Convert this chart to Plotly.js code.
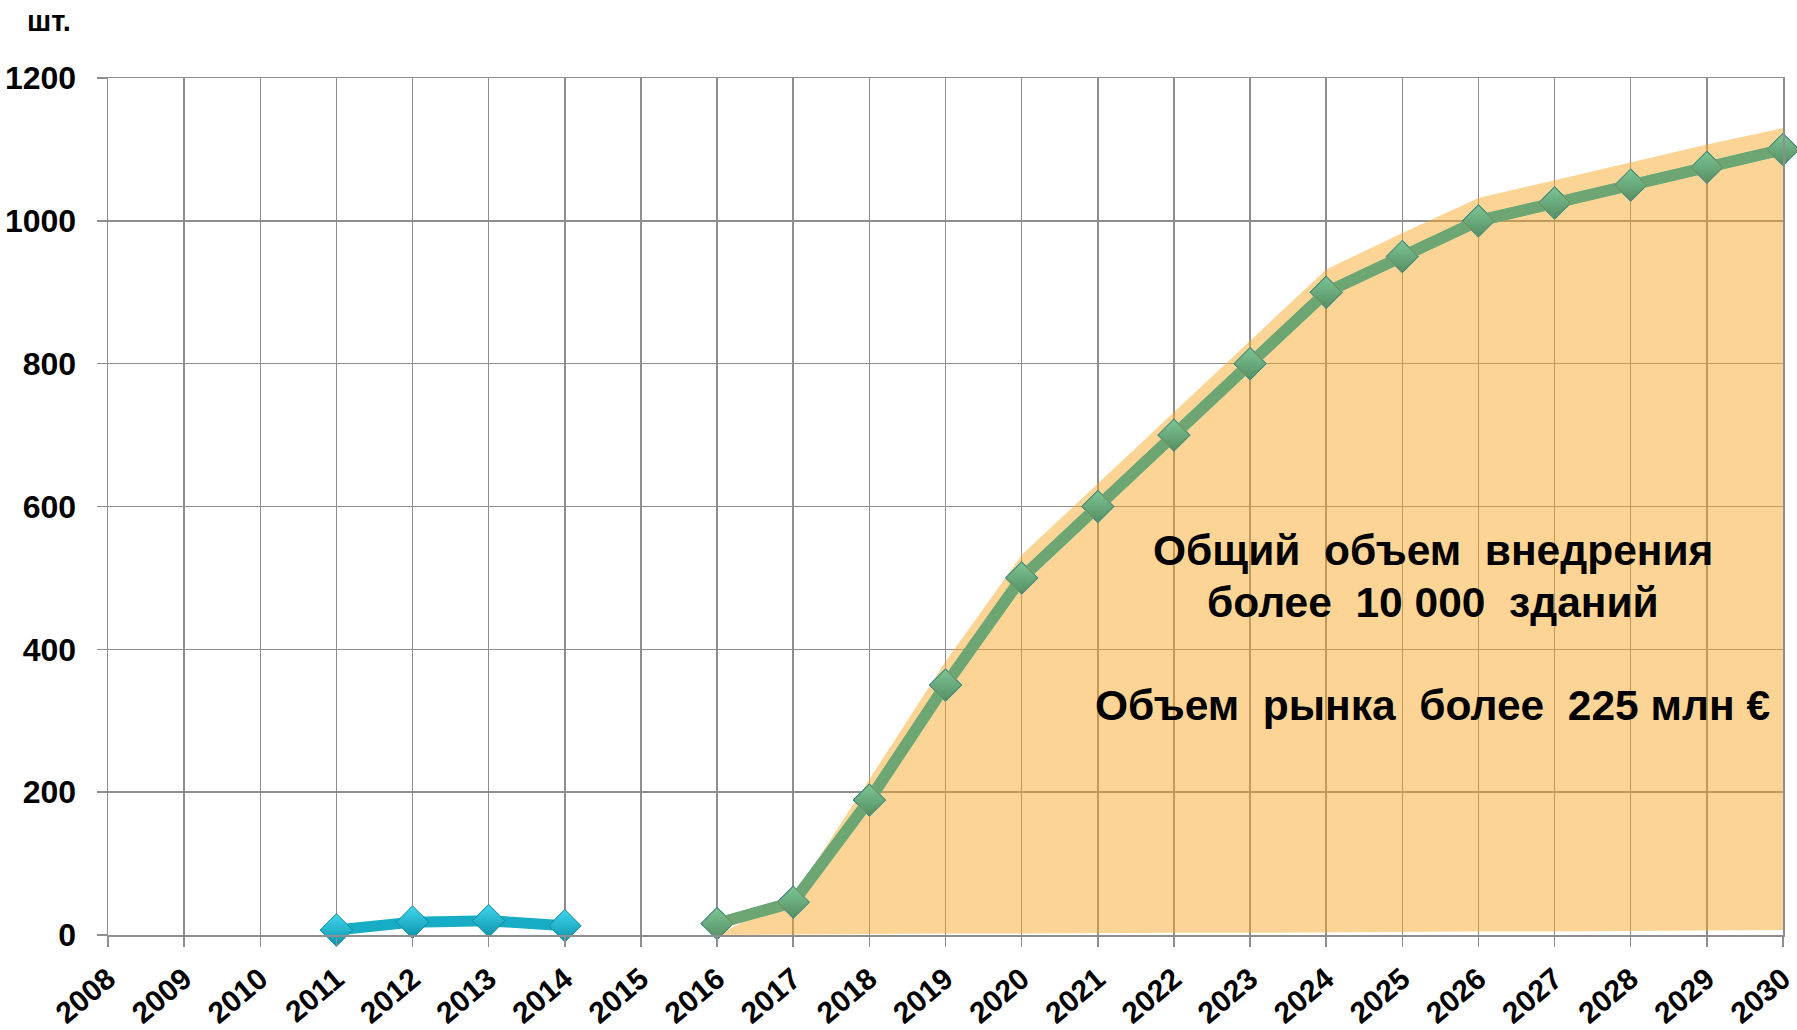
<!DOCTYPE html>
<html>
<head>
<meta charset="utf-8">
<script src="https://cdn.plot.ly/plotly-3.0.1.min.js"></script>
<style>html,body{margin:0;padding:0;background:#fff;}#chart{width:1797px;height:1030px;}</style>
</head>
<body>
<div id="chart"></div>
<script>
// Axis categories / ticks
const years = [2008,2009,2010,2011,2012,2013,2014,2015,2016,2017,2018,2019,2020,2021,2022,2023,2024,2025,2026,2027,2028,2029,2030];
const yTicks = [0,200,400,600,800,1000,1200];

// Cyan series (actual) – gap at 2015
const actualYears = [2011,2012,2013,2014,2015,2016,2017,2018,2019,2020,2021,2022,2023,2024,2025,2026,2027,2028,2029,2030];
const actualValues = [7,18,20,13,null,16,46,189,350,500,600,700,800,900,950,1000,1025,1050,1075,1100];

// Green series (forecast)
const forecastYears = [2016,2017,2018,2019,2020,2021,2022,2023,2024,2025,2026,2027,2028,2029,2030];
const forecastValues = [16,46,189,350,500,600,700,800,900,950,1000,1025,1050,1075,1100];

// Orange area (upper edge and lower edge)
const areaUpper = [0,53,218,383,532,632,732,832,932,983,1032,1057,1082,1107,1130];
const areaLower = [0,1,1,2,2,3,3,3,4,4,5,5,6,6,7];

const fontFam = '"Liberation Sans", Arial, Helvetica, sans-serif';
const gridCol = '#8e8e8e';

const traces = [
  {
    x: forecastYears, y: areaLower, type: 'scatter', mode: 'lines',
    line: {width: 0, color: 'rgba(0,0,0,0)'}, hoverinfo: 'skip', showlegend: false
  },
  {
    x: forecastYears, y: areaUpper, type: 'scatter', mode: 'lines',
    line: {width: 0, color: 'rgba(0,0,0,0)'}, fill: 'tonexty',
    fillcolor: 'rgba(249,168,36,0.48)', hoverinfo: 'skip', showlegend: false
  },
  {
    x: actualYears, y: actualValues, type: 'scatter', mode: 'lines+markers',
    connectgaps: false, cliponaxis: false,
    line: {color: '#17adc4', width: 11},
    marker: {symbol: 'diamond', size: 25, color: '#3fd6ee',
             gradient: {type: 'vertical', color: '#0c93ab'},
             line: {color: '#0a879c', width: 1}},
    showlegend: false
  },
  {
    x: forecastYears, y: forecastValues, type: 'scatter', mode: 'lines+markers',
    cliponaxis: false,
    line: {color: '#6ea673', width: 11.5},
    marker: {symbol: 'diamond', size: 24, color: '#7cc596',
             gradient: {type: 'vertical', color: '#568f62'},
             line: {color: '#6b8a5c', width: 1}},
    showlegend: false
  }
];

const layout = {
  width: 1797, height: 1030,
  margin: {l: 108, r: 14, t: 78, b: 95, pad: 0},
  paper_bgcolor: '#ffffff', plot_bgcolor: '#ffffff',
  showlegend: false,
  font: {family: fontFam, color: '#000'},
  xaxis: {
    range: [2008, 2030], tickmode: 'array', tickvals: years, ticktext: years.map(String),
    tickangle: -40, tickfont: {size: 30, weight: 'bold', family: fontFam, color: '#000'},
    showgrid: true, gridcolor: gridCol, gridwidth: 1.5,
    ticks: 'outside', ticklen: 10, tickcolor: gridCol, tickwidth: 1.5,
    zeroline: false, showline: true, mirror: true, linecolor: gridCol, linewidth: 1.5,
    ticklabelstandoff: 3, ticklabeloverflow: 'allow', fixedrange: true
  },
  yaxis: {
    range: [0, 1200], tickmode: 'array', tickvals: yTicks,
    tickfont: {size: 32, weight: 'bold', family: fontFam, color: '#000'},
    showgrid: true, gridcolor: gridCol, gridwidth: 1.5,
    ticks: 'outside', ticklen: 10, tickcolor: gridCol, tickwidth: 1.5,
    zeroline: false, showline: true, mirror: true, linecolor: gridCol, linewidth: 1.5,
    ticklabelstandoff: 14, ticklabeloverflow: 'allow', fixedrange: true
  },
  annotations: [
    {xref: 'paper', yref: 'paper', x: -0.0353, y: 1.066, xanchor: 'center', yanchor: 'middle',
     text: 'шт.', showarrow: false, font: {size: 29, weight: 'bold', family: fontFam, color: '#000'}},
    {xref: 'x', yref: 'y', x: 2025.4, y: 538, xanchor: 'center', yanchor: 'middle', showarrow: false,
     text: 'Общий\u00a0\u00a0объем\u00a0\u00a0внедрения', font: {size: 42.5, weight: 'bold', family: fontFam, color: '#000'}},
    {xref: 'x', yref: 'y', x: 2025.4, y: 466, xanchor: 'center', yanchor: 'middle', showarrow: false,
     text: 'более\u00a0\u00a010 000\u00a0\u00a0зданий', font: {size: 42.5, weight: 'bold', family: fontFam, color: '#000'}},
    {xref: 'x', yref: 'y', x: 2025.4, y: 322, xanchor: 'center', yanchor: 'middle', showarrow: false,
     text: 'Объем\u00a0\u00a0рынка\u00a0\u00a0более\u00a0\u00a0225 млн €', font: {size: 42.5, weight: 'bold', family: fontFam, color: '#000'}}
  ]
};

Plotly.newPlot('chart', traces, layout, {displayModeBar: false, staticPlot: true});
</script>
</body>
</html>
